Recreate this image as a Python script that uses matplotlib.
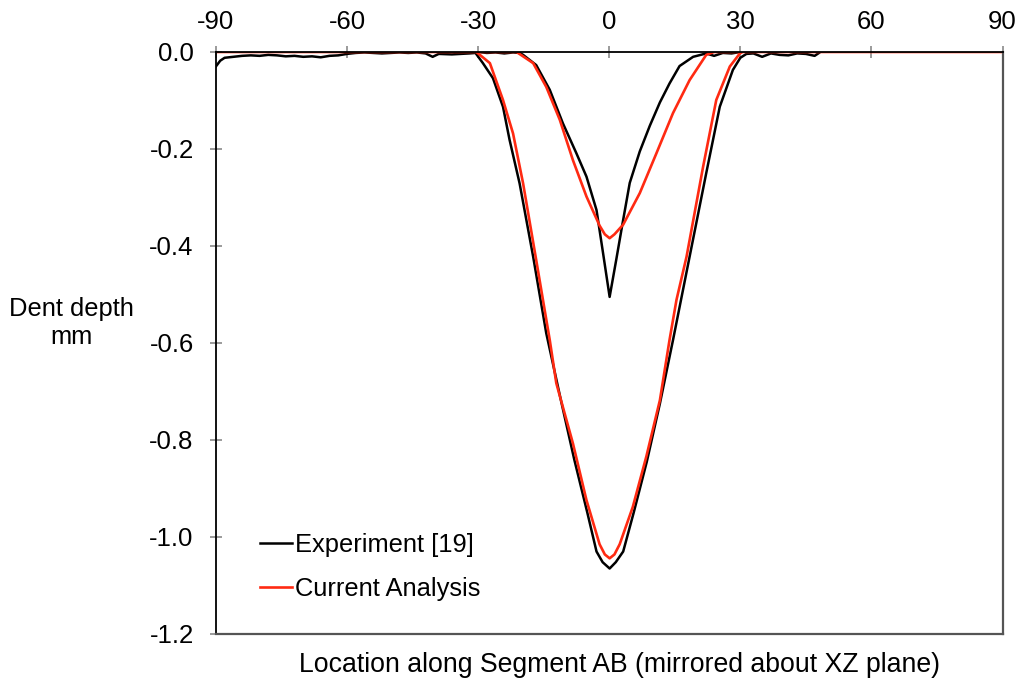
import numpy as np
import matplotlib.pyplot as plt

# =========================================================
# DATA
# =========================================================

# Experiment, large dent profile (with baseline noise)
exp_outer_x = [-90, -89, -88, -86, -84, -82, -80, -78, -76, -74, -72, -70, -68, -66,
               -64, -62, -60, -58, -56, -54, -52, -50, -48, -46, -44, -42, -40.4, -39,
               -36, -34, -32, -30.6, -28.9, -26.6, -24.3, -22.8, -20.5, -17.4, -14.4,
               -11.0, -8.0, -5.0, -2.9, -1.5, 0.1, 1.5, 3.2, 5.6, 8.6, 11.6, 14.6,
               18.4, 22.2, 25.3, 28.3, 30.0, 31.4, 33, 35, 37, 39, 41, 43, 45, 47, 48]
exp_outer_y = [-0.030, -0.018, -0.012, -0.010, -0.008, -0.007, -0.008, -0.006, -0.007,
               -0.009, -0.008, -0.010, -0.009, -0.011, -0.008, -0.007, -0.004, -0.002,
               -0.001, -0.002, -0.003, -0.002, -0.001, -0.002, -0.001, -0.003, -0.010,
               -0.004, -0.005, -0.004, -0.003, -0.002, -0.023, -0.054, -0.113, -0.181,
               -0.271, -0.422, -0.580, -0.720, -0.840, -0.950, -1.030, -1.052, -1.065,
               -1.052, -1.030, -0.950, -0.845, -0.725, -0.594, -0.422, -0.250, -0.113,
               -0.037, -0.012, -0.004, -0.003, -0.010, -0.003, -0.006, -0.007, -0.003,
               -0.004, -0.008, -0.002]

# Experiment, small dent profile
exp_inner_x = [-30, -28, -26, -24, -22, -20.5, -19.7, -16.7, -13.6, -10.6, -7.5, -5.2,
               -2.9, -1.4, 0.1, 1.6, 3.2, 4.7, 7.0, 9.3, 11.6, 13.8, 16.1, 19.2, 22.2,
               24, 26, 28, 30]
exp_inner_y = [0.000, -0.002, -0.001, -0.003, -0.001, -0.002, -0.006, -0.027, -0.078,
               -0.147, -0.209, -0.257, -0.326, -0.415, -0.505, -0.429, -0.346, -0.270,
               -0.205, -0.152, -0.104, -0.065, -0.029, -0.010, -0.003, -0.008, -0.002,
               -0.003, 0.000]

# Current analysis, large dent
ana_outer_x = [-90, -30.4, -27.3, -24.3, -22.0, -19.7, -16.7, -13.6, -12.1, -8.3, -5.2,
               -2.2, -1.0, 0.1, 1.2, 2.4, 5.4, 8.5, 11.6, 13.8, 15.4, 17.7, 21.5, 24.5,
               27.6, 29.9, 30.5, 90]
ana_outer_y = [0.000, 0.000, -0.023, -0.099, -0.168, -0.271, -0.429, -0.594, -0.683,
               -0.807, -0.924, -1.015, -1.036, -1.044, -1.036, -1.015, -0.938, -0.834,
               -0.718, -0.594, -0.511, -0.422, -0.236, -0.099, -0.030, -0.003, 0.000,
               0.000]

# Current analysis, small dent
ana_inner_x = [-30, -21.2, -17.4, -14.4, -11.3, -8.3, -5.2, -2.2, -1.0, 0.1, 1.2, 3.2,
               7.0, 10.8, 14.6, 18.4, 22.2, 24, 30]
ana_inner_y = [0.000, 0.000, -0.023, -0.072, -0.140, -0.223, -0.298, -0.358, -0.376,
               -0.384, -0.376, -0.356, -0.291, -0.209, -0.126, -0.058, -0.006, 0.000,
               0.000]

x_ticks = [-90, -60, -30, 0, 30, 60, 90]
y_ticks = [0.0, -0.2, -0.4, -0.6, -0.8, -1.0, -1.2]

RED = "#ff2a12"

plt.rcParams['font.family'] = ['Liberation Sans', 'DejaVu Sans']
plt.rcParams['axes.unicode_minus'] = False

# =========================================================
# PLOT
# =========================================================
fig = plt.figure(figsize=(10.23, 6.82), dpi=100)
ax = fig.add_axes([0.211, 0.0704, 0.769, 0.8534])

ax.plot(exp_outer_x, exp_outer_y, color="black", lw=1.8, label="Experiment [19]")
ax.plot(exp_inner_x, exp_inner_y, color="black", lw=1.8)
ax.plot(ana_outer_x, ana_outer_y, color=RED, lw=1.9, label="Current Analysis")
ax.plot(ana_inner_x, ana_inner_y, color=RED, lw=1.9)

ax.set_xlim(-90, 90)
ax.set_ylim(-1.2, 0.0)
ax.set_xticks(x_ticks)
ax.set_yticks(y_ticks)
ax.set_yticklabels([f"{v:.1f}" for v in y_ticks])

ax.xaxis.tick_top()
ax.tick_params(axis="both", direction="inout", length=8, width=1.2,
               color="#8a8a8a", labelsize=18.5)
ax.tick_params(axis="x", pad=9)
ax.tick_params(axis="y", pad=12)

for side in ["top", "left"]:
    ax.spines[side].set_color("black")
    ax.spines[side].set_linewidth(1.3)
for side in ["right", "bottom"]:
    ax.spines[side].set_color("#555555")
    ax.spines[side].set_linewidth(1.6)

ax.set_xlabel("Location along Segment AB (mirrored about XZ plane)", fontsize=19.2)
ax.xaxis.set_label_position("bottom")
ax.xaxis.set_label_coords(0.513, -0.053)
ax.xaxis.label.set_va("center")

ax.set_ylabel("Dent depth\nmm", fontsize=18.4, rotation=0, ha="center", va="center",
              linespacing=1.2)
ax.yaxis.set_label_coords(-0.183, 0.534)

ax.legend(loc="upper left", bbox_to_anchor=(0.056, 0.174), frameon=False,
          fontsize=18.4, handlelength=1.25, handletextpad=0.12, labelspacing=0.8,
          borderpad=0, borderaxespad=0)

fig.savefig("out.png", dpi=100)
